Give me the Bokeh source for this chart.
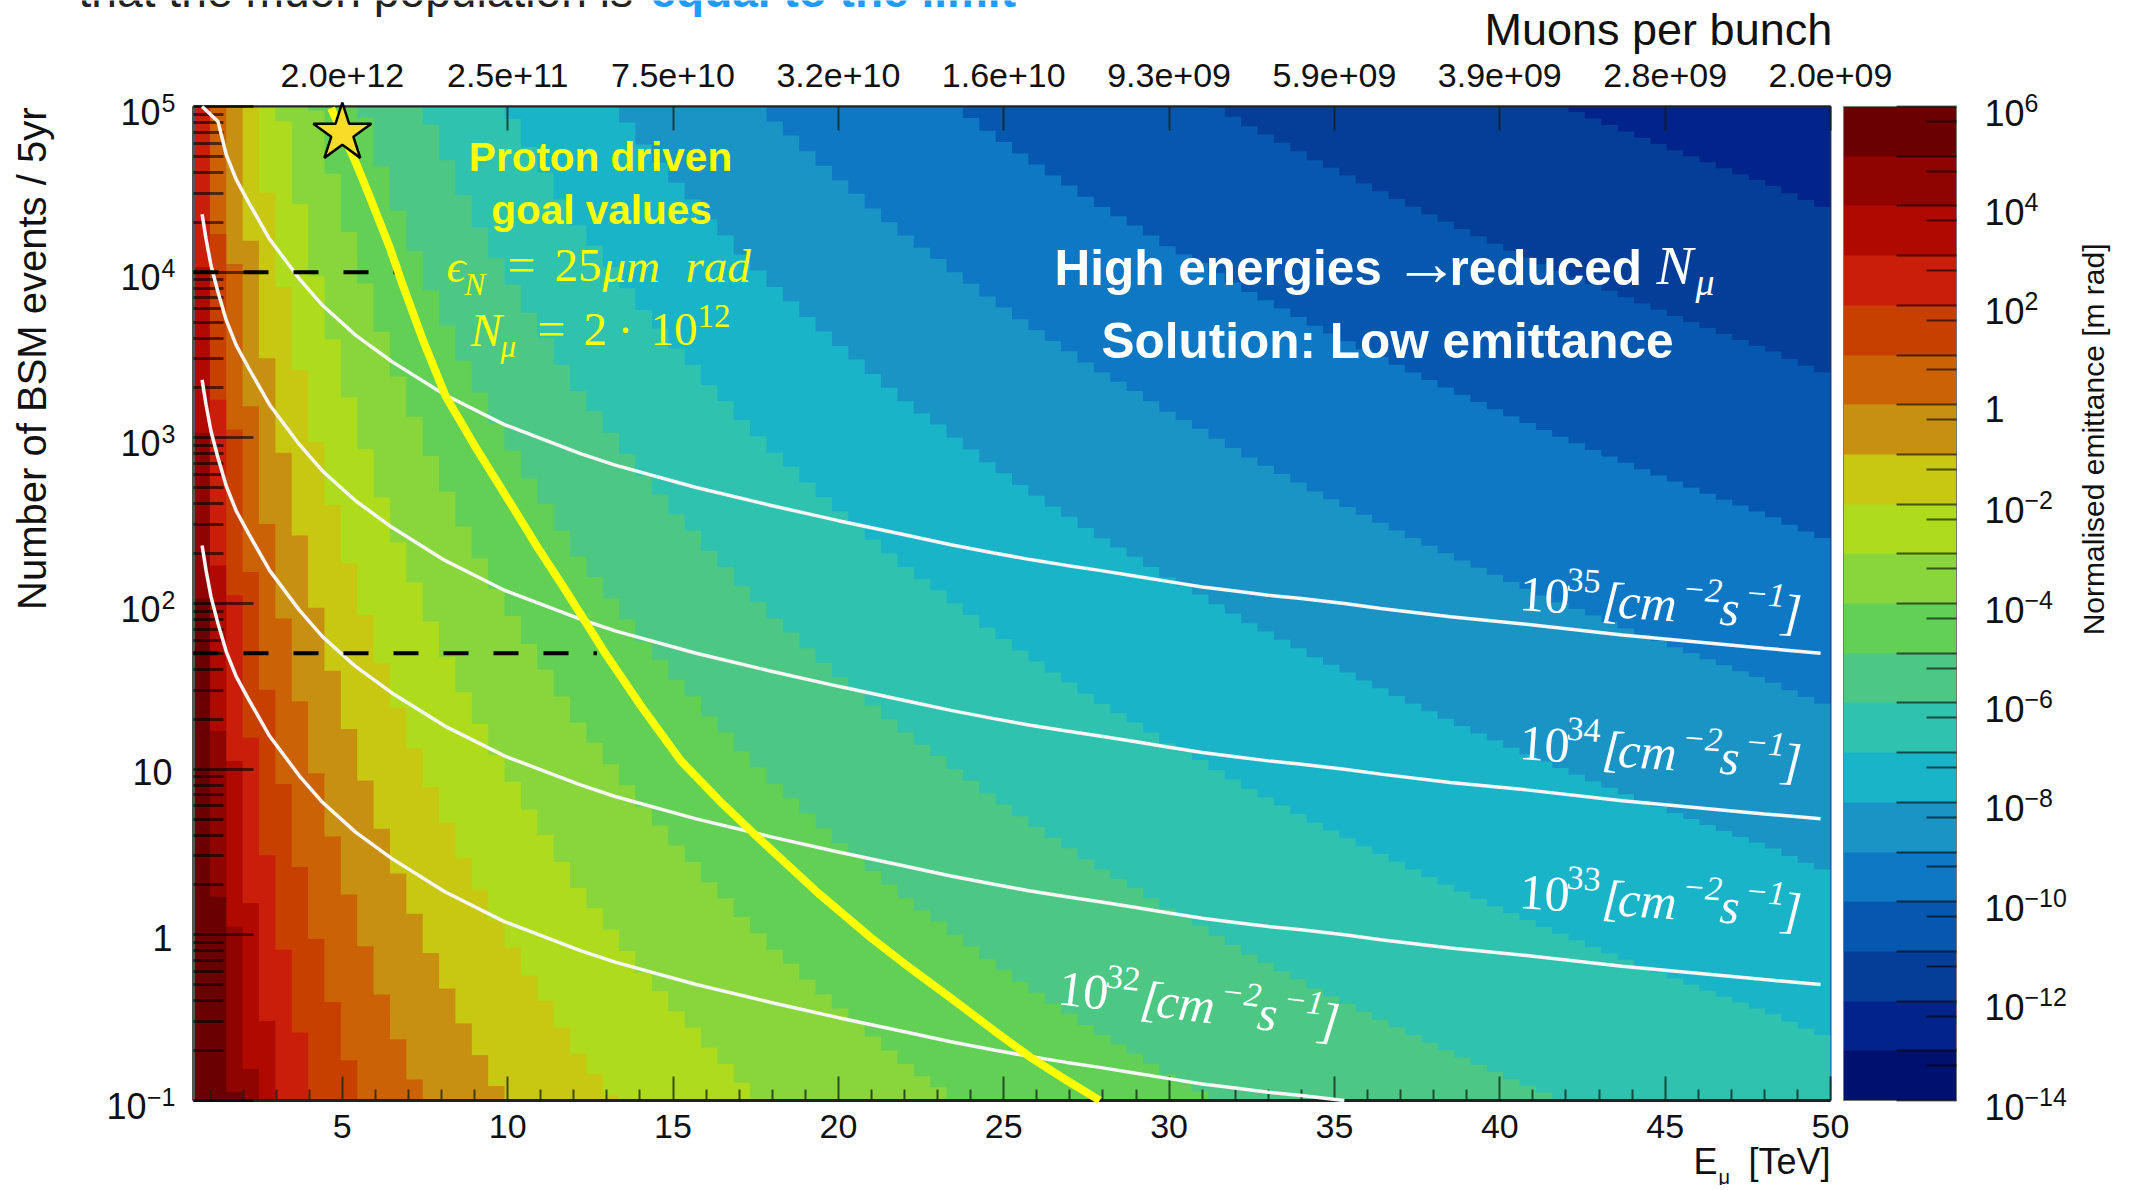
import numpy as np
from bokeh.embed import file_html
from bokeh.resources import INLINE
from bokeh.plotting import figure
from bokeh.models import (ColorBar, CustomJSTickFormatter, FixedTicker, Label,
                          LinearAxis, LogColorMapper, Range1d)

# ---------- data ----------
# one boundary offset per 0.495 TeV energy bin: log10(y) of the band edge of emittance 10^k is OFFSET - k
OFFSET = [7.03, 5.23, 4.05, 3.19, 2.48, 1.91, 1.41, 0.975, 0.594, 0.243,
          -0.069, -0.36, -0.63, -0.873, -1.109, -1.324, -1.535, -1.727, -1.913, -2.076,
          -2.245, -2.398, -2.561, -2.718, -2.84, -2.97, -3.097, -3.229, -3.34, -3.461,
          -3.561, -3.682, -3.779, -3.893, -3.99, -4.09, -4.175, -4.27, -4.358, -4.445,
          -4.527, -4.615, -4.698, -4.779, -4.853, -4.92, -5.0, -5.07, -5.147, -5.214,
          -5.284, -5.35, -5.416, -5.477, -5.545, -5.606, -5.662, -5.718, -5.779, -5.843,
          -5.893, -5.945, -6.005, -6.062, -6.119, -6.169, -6.219, -6.27, -6.324, -6.37,
          -6.417, -6.465, -6.512, -6.559, -6.605, -6.651, -6.696, -6.74, -6.784, -6.827,
          -6.87, -6.911, -6.952, -6.993, -7.033, -7.073, -7.112, -7.151, -7.189, -7.227,
          -7.264, -7.301, -7.337, -7.373, -7.409, -7.444, -7.479, -7.524, -7.565, -7.605]
LEVELS = list(range(-14, 6))
COLORS = ["#00106e", "#02248a", "#043e98", "#0558ae", "#0e78c4", "#1a94c4", "#1ab4c8",
          "#2fc2ae", "#4cc884", "#62cf55", "#88d63c", "#aedc1c", "#c8c812", "#c89010",
          "#cc6206", "#c84000", "#c81e0a", "#b00a00", "#900400", "#6a0000"]

LUMI_E = [0.76, 0.88, 1.03, 1.24, 1.49, 1.79, 2.17, 2.8, 3.7, 4.4, 5.4, 6.5, 8.1, 9.9, 12.2,
          13.25, 15.7, 18, 20, 22, 23.4, 24.7, 25.8, 26.9, 27.9, 29, 30, 31, 32, 33, 34,
          35.3, 36.4, 38.5, 40.8, 43.7, 48, 49.7]
LUMI_32 = [2.35, 2.20, 2.04, 1.88, 1.71, 1.56, 1.42, 1.2, 0.96, 0.80, 0.62, 0.46, 0.26, 0.08, -0.095,
           -0.165, -0.30, -0.41, -0.50, -0.585, -0.645, -0.695, -0.735, -0.77, -0.80, -0.835, -0.868,
           -0.90, -0.925, -0.95, -0.97, -1.0, -1.03, -1.08, -1.125, -1.19, -1.27, -1.30]
LUMI_32_LAST = 32   # the 10^32 line leaves the frame at the bottom after this many points
LUMI_DECADES = [1, 2]
LUMI_35_E = [0.76, 1.24] + LUMI_E[4:]
LUMI_35 = [5.0, 4.91] + [v + 3 for v in LUMI_32[4:]]

GOAL_E = [4.66, 5.41, 5.82, 6.42, 6.82, 7.43, 8.13, 9.07, 10.1, 10.9, 11.75, 12.98, 14.0, 15.24, 16.5,
          17.5, 19.4, 21, 22.2, 23.39, 24.7, 25.8, 26.9, 27.9]
GOAL_LOG = [4.99, 4.66, 4.46, 4.157, 3.926, 3.594, 3.25, 2.93, 2.6, 2.34, 2.08, 1.69, 1.39, 1.05, 0.79,
            0.60, 0.25, -0.02, -0.205, -0.38, -0.577, -0.738, -0.878, -0.999]
DASH_Y = [1e4, 50]
DASH_END = [6.6, 12.7]
STAR_E, STAR_Y = [5], [6.9e4]

X_TICKS = [5, 10, 15, 20, 25, 30, 35, 40, 45, 50]
X_MINOR = [1, 2, 3, 4, 6, 7, 8, 9, 11, 12, 13, 14, 16, 17, 18, 19, 21, 22, 23, 24, 26, 27, 28, 29,
           31, 32, 33, 34, 36, 37, 38, 39, 41, 42, 43, 44, 46, 47, 48, 49]
MUONS = ["2.0e+12", "2.5e+11", "7.5e+10", "3.2e+10", "1.6e+10", "9.3e+09", "5.9e+09", "3.9e+09",
         "2.8e+09", "2.0e+09"]
Y_LABELS = [(-1, "10", "\u22121"), (0, "1", ""), (1, "10", ""), (2, "10", "2"), (3, "10", "3"),
            (4, "10", "4"), (5, "10", "5")]
CB_LABELS = [(6, "10", "6"), (4, "10", "4"), (2, "10", "2"), (0, "1", ""), (-2, "10", "\u22122"),
             (-4, "10", "\u22124"), (-6, "10", "\u22126"), (-8, "10", "\u22128"),
             (-10, "10", "\u221210"), (-12, "10", "\u221212"), (-14, "10", "\u221214")]
LUMI_LABELS = [("35", 1518, 611, 4.0), ("34", 1518, 760, 4.0), ("33", 1518, 909, 4.0), ("32", 1056, 1005, 7.0)]

# ---------- layout ----------
LEFT, TOP, W, H = 193, 106, 1637, 994
RIGHT_B, BOTTOM_B = 288, 85
CW, CH = LEFT + W + RIGHT_B, TOP + H + BOTTOM_B
SANS, SERIF = "Liberation Sans", "Liberation Serif"

p = figure(output_backend="svg", toolbar_location=None, frame_width=W, frame_height=H,
           x_range=Range1d(0.5, 50), y_range=Range1d(0.1, 1e5), y_axis_type="log",
           min_border_left=LEFT, min_border_top=TOP, min_border_bottom=BOTTOM_B, min_border_right=RIGHT_B,
           background_fill_color="white", border_fill_color="white")
p.grid.visible = False
p.outline_line_color = "#444444"
p.outline_line_width = 2

# transparent overlay covering the whole canvas: same scales as the main frame, nothing clipped at the frame
xs = W / 49.5
ys = H / 6
q = figure(output_backend="svg", toolbar_location=None, frame_width=CW, frame_height=CH,
           x_range=Range1d(0.5 - LEFT / xs, 50 + RIGHT_B / xs),
           y_range=Range1d(10 ** (-1 - BOTTOM_B / ys), 10 ** (5 + TOP / ys)), y_axis_type="log",
           x_axis_location=None, y_axis_location=None, min_border=0, margin=(-CH, 0, 0, 0),
           background_fill_color=None, border_fill_color=None, outline_line_color=None)
q.grid.visible = False

# ---------- heat map bands ----------
edges = np.linspace(0.5, 50, len(OFFSET) + 1)
off = np.array(OFFSET + OFFSET[-1:])
for k, c in zip(LEVELS, COLORS):
    top = np.clip(10.0 ** (off - k), 0.1, 1e5)
    p.varea_step(x=edges, y1=np.full(edges.size, 0.1), y2=top, step_mode="after", fill_color=c)

# ---------- lines ----------
WHITE = dict(line_color="#f6f6f6", line_width=3.5, level="annotation")
p.line(LUMI_E[:LUMI_32_LAST], [10 ** v for v in LUMI_32[:LUMI_32_LAST]], **WHITE)
for d in LUMI_DECADES:
    p.line(LUMI_E, [10 ** (v + d) for v in LUMI_32], **WHITE)
p.line(LUMI_35_E, [10 ** v for v in LUMI_35], **WHITE)
for yv, xe in zip(DASH_Y, DASH_END):
    p.line([0.5, xe], [yv, yv], line_color="black", line_width=4, line_dash="25 25", level="annotation")
p.line(GOAL_E, [10 ** v for v in GOAL_LOG], line_color="#ffff00", line_width=8, level="annotation")
q.scatter(STAR_E, STAR_Y, marker="star", size=61, fill_color="#f8dc28", line_color="black", line_width=2.5)

# ---------- axes ----------
blank = CustomJSTickFormatter(code="return ''")
xa = p.xaxis[0]
xa.ticker = FixedTicker(ticks=X_TICKS, minor_ticks=X_MINOR)
xa.major_tick_in, xa.major_tick_out = 24, 0
xa.minor_tick_in, xa.minor_tick_out = 11, 0
xa.major_tick_line_color = xa.minor_tick_line_color = "#102018"
xa.major_tick_line_alpha = xa.minor_tick_line_alpha = 0.75
xa.major_tick_line_width = xa.minor_tick_line_width = 2
xa.axis_line_color = "#222222"
xa.axis_line_width = 3
xa.major_label_text_font = SANS
xa.major_label_text_font_size = "34px"
xa.major_label_text_color = "#111111"
xa.major_label_standoff = 14

ta = LinearAxis(ticker=FixedTicker(ticks=X_TICKS),
                major_label_overrides=dict(zip(X_TICKS, MUONS)))
ta.major_tick_in, ta.major_tick_out = 24, 0
ta.major_tick_line_color = "#102018"
ta.major_tick_line_alpha = 0.75
ta.major_tick_line_width = 2
ta.axis_line_color = "#222222"
ta.axis_line_width = 2
ta.major_label_text_font = SANS
ta.major_label_text_font_size = "34px"
ta.major_label_text_color = "#111111"
ta.major_label_standoff = 20
p.add_layout(ta, "above")

ya = p.yaxis[0]
ya.ticker = FixedTicker(ticks=[10.0 ** e for e in range(-1, 6)],
                        minor_ticks=[m * 10.0 ** e for e in range(-1, 5) for m in range(2, 10)])
ya.formatter = blank
ya.major_tick_in, ya.major_tick_out = 60, 0
ya.minor_tick_in, ya.minor_tick_out = 30, 0
ya.major_tick_line_color = ya.minor_tick_line_color = "black"
ya.major_tick_line_alpha = ya.minor_tick_line_alpha = 0.6
ya.major_tick_line_width = ya.minor_tick_line_width = 3
ya.axis_line_color = "#555555"
ya.axis_line_width = 3

mapper = LogColorMapper(palette=COLORS, low=1e-14, high=1e6)
cb = ColorBar(color_mapper=mapper, width=113, height=H, padding=0, margin=0, location=(13, 0),
              ticker=FixedTicker(ticks=[10.0 ** e for e in range(-14, 7)],
                                 minor_ticks=[5 * 10.0 ** e for e in range(-14, 6)]),
              formatter=blank, major_tick_in=60, minor_tick_in=30, major_tick_out=0, minor_tick_out=0,
              major_tick_line_color="black", minor_tick_line_color="black",
              major_tick_line_alpha=0.6, minor_tick_line_alpha=0.6,
              major_tick_line_width=2, minor_tick_line_width=2, bar_line_color="#777777", bar_line_width=1)
p.add_layout(cb, "right")


# ---------- text ----------
def put(x, y, text, size, color="#111111", font=SANS, style="normal", align="left", angle=0.0):
    # x, y is the baseline point; the anchor used is the vertical middle of the text
    a = np.radians(angle)
    sx = float(x - 0.36 * size * np.sin(a))
    sy = float(y - 0.36 * size * np.cos(a))
    q.add_layout(Label(x=sx, y=sy, x_units="canvas", y_units="canvas", text=text, text_font=font,
                       text_font_size=f"{size}px", text_color=color, text_font_style=style,
                       text_align=align, text_baseline="middle", angle=angle, angle_units="deg"))


put(78, 7, "that the muon population is ", 46.2, "#222222")
put(650, 7, "equal to the limit", 46, "#1e9bff", style="bold")
put(1484, 45, "Muons per bunch", 45)

# left tick labels
for lg, base, ex in Y_LABELS:
    ty = TOP + (5 - lg) * H / 6
    if ex:
        put(175, ty + 5, ex, 25, align="right")
        rx = 175 - 14 * len(ex) - 1
        put(rx, ty + 18, base, 36, align="right")
    else:
        put(172, ty + 16, base, 36, align="right")

# colour bar tick labels
for lg, base, ex in CB_LABELS:
    ty = TOP + (6 - lg) * H / 20
    put(1984, ty + (19 if ex else 17), base, 36)
    if ex:
        put(2024, ty + 5, ex, 25)

put(46, 107, "Number of BSM events / 5yr", 40, align="right", angle=90)
put(2104, 243, "Normalised emittance [m rad]", 30, align="right", angle=90)
put(1693, 1174, "E", 36)
put(1718, 1184, "\u03bc", 20)
put(1830, 1174, "[TeV]", 36, align="right")

# yellow goal block
YEL = "#ffff00"
put(600, 171, "Proton driven", 40.5, YEL, style="bold", align="center")
put(601, 224, "goal values", 40.5, YEL, style="bold", align="center")
put(446, 282, "\u03f5", 47, YEL, SERIF, "italic")
put(464, 295, "N", 31, YEL, SERIF, "italic")
put(507, 282, "=", 50, YEL, SERIF)
put(554, 282, "25", 47, YEL, SERIF)
put(602, 282, "\u03bcm", 47, YEL, SERIF, "italic")
put(685, 282, "rad", 47, YEL, SERIF, "italic")
put(470, 346, "N", 47, YEL, SERIF, "italic")
put(500, 357, "\u03bc", 31, YEL, SERIF, "italic")
put(537, 346, "=", 50, YEL, SERIF)
put(583, 346, "2", 47, YEL, SERIF)
put(617, 346, "\u00b7", 47, YEL, SERIF)
put(650, 346, "10", 47, YEL, SERIF)
put(697, 327, "12", 33, YEL, SERIF)

# white statement
put(1054, 285, "High energies", 49.5, "white", style="bold")
put(1393, 285, "\u2192", 66, "white", style="bold")
put(1449, 285, "reduced", 49.5, "white", style="bold")
put(1656, 285, "N", 55, "white", SERIF, "italic")
put(1695, 295, "\u03bc", 38, "white", SERIF, "italic")
put(1101, 358, "Solution: Low emittance", 49.5, "white", style="bold")

# luminosity tags, tilted
for ex, x0, y0, tilt in LUMI_LABELS:
    t = np.radians(tilt)
    pieces = [("10", 0, 0, 50, "normal"), (ex, 46, 23, 34, "normal"), ("[", 83, 0, 50, "italic"),
              ("cm", 99, 0, 50, "italic"), ("\u22122", 162, 22, 34, "italic"), ("s", 201, 0, 50, "italic"),
              ("\u22121", 225, 22, 34, "italic"), ("]", 263, 0, 50, "italic")]
    for txt, a, b, size, st in pieces:
        put(float(x0 + a * np.cos(t) + b * np.sin(t)), float(y0 + a * np.sin(t) - b * np.cos(t)), txt, size,
            "white", SERIF, st, angle=-tilt)

open("out.html", "w").write(file_html((p, q), INLINE))
